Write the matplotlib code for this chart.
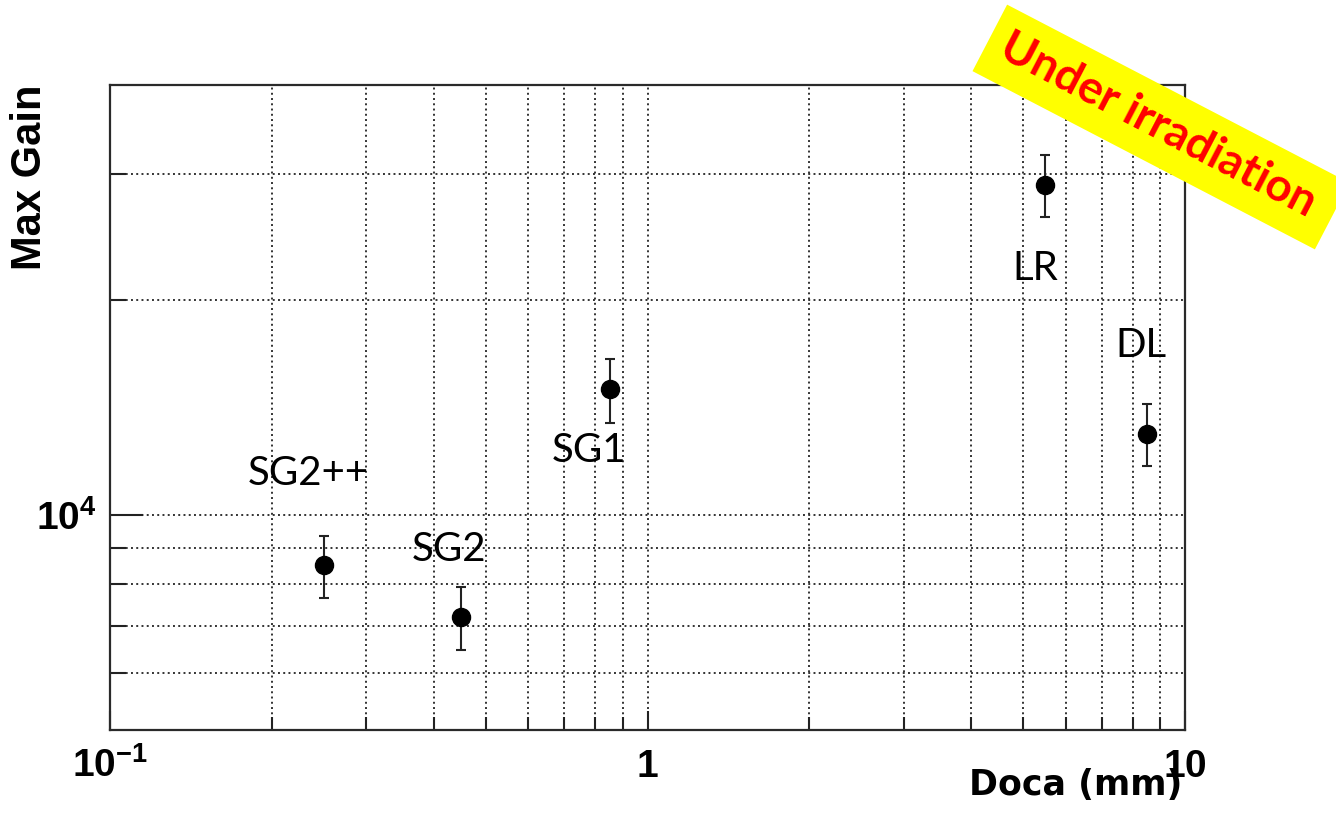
import matplotlib
matplotlib.use('Agg')
import matplotlib.pyplot as plt
from matplotlib.patches import Rectangle
from matplotlib.transforms import Affine2D
from matplotlib.ticker import FixedLocator, NullFormatter

# Max gain vs doca for the different detector layouts
names = ['SG2++', 'SG2', 'SG1', 'LR', 'DL']
doca = [0.25, 0.45, 0.85, 5.5, 8.5]
max_gain = [8500, 7200, 15000, 29000, 13000]
gain_err = [860, 730, 1550, 2900, 1300]

x_major = [0.1, 1, 10]
x_labels = [r'$10^{-1}$', r'$1$', r'$10$']
x_minor = [k * 10.0 ** e for e in (-1, 0) for k in range(2, 10)]
y_major = [1e4]
y_labels = [r'$10^{4}$']
y_minor = [6000, 7000, 8000, 9000, 20000, 30000]

# where each name sits relative to its point (pixels)
label_offsets = [(-16, 80), (-12, 56), (-21, -73), (-10, -95), (-6, 77)]

plt.rcParams['mathtext.fontset'] = 'custom'
plt.rcParams['mathtext.rm'] = 'Liberation Sans:bold'
plt.rcParams['mathtext.it'] = 'Liberation Sans:bold'
plt.rcParams['mathtext.bf'] = 'Liberation Sans:bold'

W, H = 1336, 813
fig = plt.figure(figsize=(W / 100, H / 100), dpi=100)
ax = fig.add_axes([110 / W, 1 - 730 / H, 1075 / W, 645 / H])

ax.set_xscale('log')
ax.set_yscale('log')
ax.set_xlim(0.1, 10)
ax.set_ylim(5000, 40000)

ax.xaxis.set_major_locator(FixedLocator(x_major))
ax.xaxis.set_minor_locator(FixedLocator(x_minor))
ax.yaxis.set_major_locator(FixedLocator(y_major))
ax.yaxis.set_minor_locator(FixedLocator(y_minor))
ax.set_xticklabels(x_labels)
ax.set_yticklabels(y_labels)
ax.xaxis.set_minor_formatter(NullFormatter())
ax.yaxis.set_minor_formatter(NullFormatter())

ax.tick_params(which='both', direction='in', top=False, right=False,
               width=1.5, color='#222222', labelsize=28)
ax.tick_params(axis='x', which='major', length=13.7, pad=33.8)
ax.tick_params(axis='x', which='minor', length=9.4)
ax.tick_params(axis='y', which='major', length=23.8, pad=9.4)
ax.tick_params(axis='y', which='minor', length=11.5)
for lbl in ax.get_xticklabels():
    lbl.set_va('baseline')

for sp in ax.spines.values():
    sp.set_linewidth(1.6)
    sp.set_color('#2a2a2a')

ax.grid(True, which='both', color='#333333', linewidth=1.4,
        linestyle=(0, (1, 1.7)))
ax.set_axisbelow(True)

ax.errorbar(doca, max_gain, yerr=gain_err, fmt='o', color='black',
            ecolor='#222222', elinewidth=1.5, capsize=3.6, capthick=1.5,
            markersize=13, zorder=5)

for name, x, y, off in zip(names, doca, max_gain, label_offsets):
    ax.annotate(name, (x, y), xytext=off, textcoords='offset pixels',
                ha='center', va='baseline', fontsize=29, family='Lato',
                color='black', zorder=6)

# axis titles, ROOT style: flush with the top / right ends of the frame
fig.text(30 / W, 1 - 85 / H, 'Max Gain', rotation=90, ha='center', va='top',
         fontsize=30, family='Liberation Sans', fontweight='bold')
fig.text(1182 / W, 1 - 795 / H, 'Doca (mm)', ha='right', va='baseline',
         fontsize=25, family='DejaVu Sans', fontweight='bold')

# yellow banner across the top right corner
angle = -27.5
cx, cy = 11.61, (H - 127) / 100
banner = Rectangle((-1.93, -0.375), 3.86, 0.75, facecolor='#ffff00',
                   edgecolor='none',
                   transform=Affine2D().rotate_deg(angle).translate(cx, cy)
                   + fig.dpi_scale_trans, zorder=10)
fig.add_artist(banner)
fig.text(cx - 0.03 * 0.887, cy + 0.03 * 0.462, 'Under irradiation',
         transform=fig.dpi_scale_trans, rotation=angle, rotation_mode='anchor',
         ha='center', va='center', fontsize=33, family='Lato',
         fontweight='bold', color='#ff0000', zorder=11)

fig.savefig('out.png', dpi=100)
